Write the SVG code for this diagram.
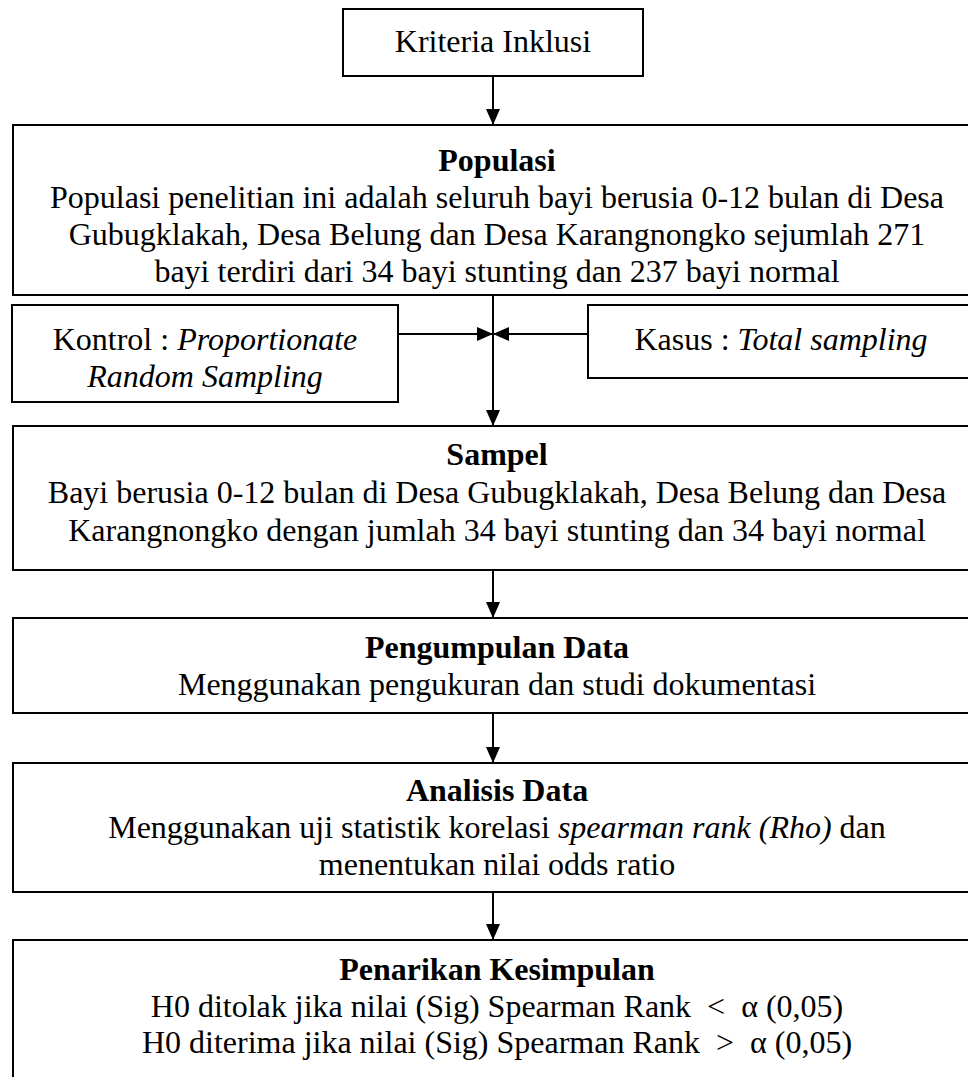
<svg xmlns="http://www.w3.org/2000/svg" width="968" height="1077" viewBox="0 0 968 1077">
<style>
.box{fill:#fff;stroke:#000;stroke-width:2}
.t{font-family:"Liberation Serif","Times New Roman",serif;font-size:32px;fill:#000;text-anchor:middle;white-space:pre}
.b{font-weight:bold}
.i{font-style:italic}
.c{stroke:#000;stroke-width:2;fill:none}
</style>
<defs>
<marker id="arr" markerWidth="16" markerHeight="14" refX="16" refY="7" orient="auto" markerUnits="userSpaceOnUse">
<path d="M0,0 L16,7 L0,14 z" fill="#000"/>
</marker>
</defs>
<g id="connectors">
<line class="c" x1="493" y1="76" x2="493" y2="125" marker-end="url(#arr)"/>
<line class="c" x1="493" y1="295" x2="493" y2="426" marker-end="url(#arr)"/>
<line class="c" x1="398" y1="334" x2="493" y2="334" marker-end="url(#arr)"/>
<line class="c" x1="588" y1="334" x2="493" y2="334" marker-end="url(#arr)"/>
<line class="c" x1="493" y1="570" x2="493" y2="618" marker-end="url(#arr)"/>
<line class="c" x1="493" y1="713" x2="493" y2="763" marker-end="url(#arr)"/>
<line class="c" x1="493" y1="892" x2="493" y2="940" marker-end="url(#arr)"/>
</g>
<g id="kriteria">
<rect class="box" x="343" y="9" width="300" height="67"/>
<text class="t" x="493" y="52">Kriteria Inklusi</text>
</g>
<g id="populasi">
<rect class="box" x="13" y="125" width="970" height="170"/>
<text class="t b" x="497" y="171">Populasi</text>
<text class="t" x="497" y="208">Populasi penelitian ini adalah seluruh bayi berusia 0-12 bulan di Desa</text>
<text class="t" x="497" y="245">Gubugklakah, Desa Belung dan Desa Karangnongko sejumlah 271</text>
<text class="t" x="497" y="282">bayi terdiri dari 34 bayi stunting dan 237 bayi normal</text>
</g>
<g id="kontrol">
<rect class="box" x="12" y="305" width="386" height="97"/>
<text class="t" x="205" y="350">Kontrol : <tspan class="i">Proportionate</tspan></text>
<text class="t i" x="205" y="387">Random Sampling</text>
</g>
<g id="kasus">
<rect class="box" x="588" y="305" width="390" height="73"/>
<text class="t" x="781" y="350">Kasus : <tspan class="i">Total sampling</tspan></text>
</g>
<g id="sampel">
<rect class="box" x="13" y="426" width="970" height="144"/>
<text class="t b" x="497" y="465">Sampel</text>
<text class="t" x="497" y="503">Bayi berusia 0-12 bulan di Desa Gubugklakah, Desa Belung dan Desa</text>
<text class="t" x="497" y="541">Karangnongko dengan jumlah 34 bayi stunting dan 34 bayi normal</text>
</g>
<g id="pengumpulan">
<rect class="box" x="13" y="618" width="970" height="95"/>
<text class="t b" x="497" y="658">Pengumpulan Data</text>
<text class="t" x="497" y="695">Menggunakan pengukuran dan studi dokumentasi</text>
</g>
<g id="analisis">
<rect class="box" x="13" y="763" width="970" height="129"/>
<text class="t b" x="497" y="801">Analisis Data</text>
<text class="t" x="497" y="838">Menggunakan uji statistik korelasi <tspan class="i">spearman rank (Rho)</tspan> dan</text>
<text class="t" x="497" y="875">menentukan nilai odds ratio</text>
</g>
<g id="penarikan">
<rect class="box" x="13" y="940" width="970" height="160"/>
<text class="t b" x="497" y="980">Penarikan Kesimpulan</text>
<text class="t" x="497" y="1017">H0 ditolak jika nilai (Sig) Spearman Rank  &lt;  α (0,05)</text>
<text class="t" x="497" y="1053">H0 diterima jika nilai (Sig) Spearman Rank  &gt;  α (0,05)</text>
</g>
</svg>
